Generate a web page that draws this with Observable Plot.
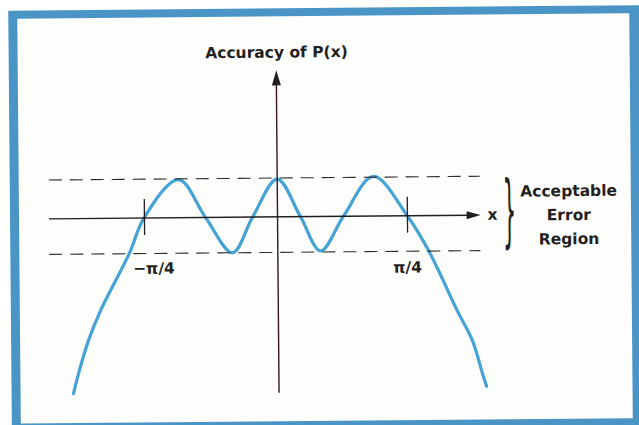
<!DOCTYPE html>
<html>
<head>
<meta charset="utf-8">
<script src="https://cdn.jsdelivr.net/npm/d3@7"></script>
<script src="https://cdn.jsdelivr.net/npm/@observablehq/plot@0.6"></script>
<style>
  html, body { margin: 0; padding: 0; background: #ffffff; overflow: hidden; }
  #wrap { position: relative; width: 639px; height: 425px; overflow: hidden; background: #ffffff; }
  #rot { position: absolute; left: 0; top: 0; width: 639px; height: 425px;
         transform: rotate(-0.5deg); transform-origin: 319.5px 212.5px; }
  #frame { position: absolute; left: 10px; top: 8px; width: 650px; height: 440px; background: #4b95c6; }
  #inner { position: absolute; left: 19px; top: 15.5px; width: 612px; height: 405px; background: #fdfdfc; }
  #chart { position: absolute; left: 0; top: 0; }
</style>
</head>
<body>
<div id="wrap"><div id="rot"><div id="frame"></div><div id="inner"></div><div id="chart"></div></div></div>
<script>
// Error curve of P(x) (x in radians, y in units of the error bound)
const curveX = [-1.228, -1.197, -1.136, -1.062, -0.886, -0.798, -0.590, -0.430, -0.271, -0.149, 0, 0.137, 0.255, 0.394, 0.575, 0.775, 0.902, 1.068, 1.158, 1.216, 1.240];
const curveY = [-4.73, -4.19, -3.30, -2.49, -0.94, 0, 1.03, 0, -0.96, 0, 1.02, 0, -0.93, 0, 1.07, 0, -0.96, -2.57, -3.39, -4.28, -4.63];

// Acceptable error band (dashed limits)
const bandY = [1.05, -0.96];
const bandXStart = -1.362;
const bandXEnd = 1.213;

// Axes
const xAxisStart = -1.362, xAxisTip = 1.213;
const yAxisBottom = -4.77, yAxisTip = 3.96;

// Tick marks at -pi/4 and pi/4
const tickX = [-0.795, 0.776];
const tickTop = 0.5, tickBottom = -0.47;
const tickLabels = ["\u2212\u03c0/4", "\u03c0/4"];
const tickLabelX = [-0.741, 0.774];
const tickLabelY = [-1.37, -1.40];

// Other labels
const titleText = ["Accuracy of P(x)"];
const titleX = [0.002], titleY = [4.44];
const xLabel = ["x"];
const xLabelX = [1.284], xLabelY = [0.01];
const regionText = ["Acceptable\nError\nRegion"];
const regionX = [1.74], regionY = [0.05];
const braceText = ["}"];
const braceX = [1.386], braceY = [0.08];

const curve = curveX.map((x, i) => ({x, y: curveY[i]}));

const ink = "#231f20";
const blue = "#45a3d6";
const font = "DejaVu Sans";

const arrowUp = { draw(ctx) { ctx.moveTo(0, 0); ctx.lineTo(4.5, 15); ctx.lineTo(-4.5, 15); ctx.closePath(); } };
const arrowRight = { draw(ctx) { ctx.moveTo(0, 0); ctx.lineTo(-14, -4); ctx.lineTo(-14, 4); ctx.closePath(); } };

const plot = Plot.plot({
  width: 639,
  height: 425,
  margin: 0,
  style: { background: "transparent", overflow: "visible" },
  x: { domain: [-1.6547, 2.1625], range: [0, 639], axis: null },
  y: { domain: [-5.6486, 5.8378], range: [425, 0], axis: null },
  marks: [
    Plot.line(curve, { x: "x", y: "y", curve: "catmull-rom", stroke: blue, strokeWidth: 3.2 }),
    Plot.ruleY(bandY, { x1: bandXStart, x2: bandXEnd, stroke: "#2b2b2b", strokeWidth: 1.1, strokeDasharray: "13,8" }),
    Plot.ruleY([0], { x1: xAxisStart, x2: xAxisTip - 0.06, stroke: ink, strokeWidth: 1.4 }),
    Plot.ruleX([0], { y1: yAxisBottom, y2: yAxisTip - 0.3, stroke: "#3a1626", strokeWidth: 1.4 }),
    Plot.dot([[xAxisTip, 0]], { x: d => d[0], y: d => d[1], symbol: arrowRight, r: 5, fill: ink, stroke: "none" }),
    Plot.dot([[0, yAxisTip]], { x: d => d[0], y: d => d[1], symbol: arrowUp, r: 5, fill: ink, stroke: "none" }),
    Plot.ruleX(tickX, { y1: tickTop, y2: tickBottom, stroke: ink, strokeWidth: 1.3 }),
    Plot.text(tickLabels, { x: (d, i) => tickLabelX[i], y: (d, i) => tickLabelY[i], text: d => d,
      fontFamily: font, fontWeight: "bold", fontSize: 15.5, fill: ink }),
    Plot.text(titleText, { x: (d, i) => titleX[i], y: (d, i) => titleY[i], text: d => d,
      fontFamily: font, fontWeight: "bold", fontSize: 15.5, fill: ink }),
    Plot.text(xLabel, { x: (d, i) => xLabelX[i], y: (d, i) => xLabelY[i], text: d => d,
      fontFamily: font, fontWeight: "bold", fontSize: 15.5, fill: ink }),
    Plot.text(regionText, { x: (d, i) => regionX[i], y: (d, i) => regionY[i], text: d => d,
      fontFamily: font, fontWeight: "bold", fontSize: 15.5, lineHeight: 1.55, fill: ink }),
    Plot.text(braceText, { x: (d, i) => braceX[i], y: (d, i) => braceY[i], text: d => d,
      fontFamily: font, fontWeight: "normal", fontSize: 21, fill: ink })
  ]
});

// stretch the brace vertically
plot.querySelectorAll("text").forEach(t => {
  if (t.textContent === "}") {
    const tr = t.getAttribute("transform");
    if (tr) {
      t.setAttribute("transform", tr + " scale(1,3.8)");
    } else {
      const x = +t.getAttribute("x") || 0, y = +t.getAttribute("y") || 0;
      t.setAttribute("x", 0); t.setAttribute("y", 0);
      t.setAttribute("transform", `translate(${x},${y}) scale(1,3.8)`);
    }
  }
});

document.getElementById("chart").appendChild(plot);
</script>
</body>
</html>
